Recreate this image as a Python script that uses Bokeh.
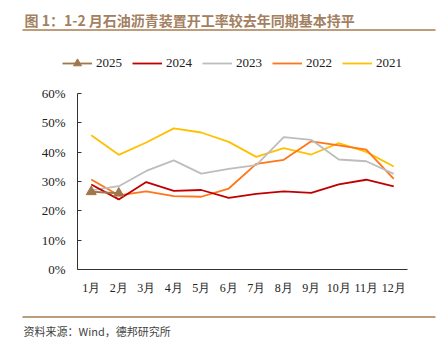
from bokeh.plotting import figure
from bokeh.models import (FactorRange, Range1d, Legend, LegendItem,
                          PrintfTickFormatter, FixedTicker)
from bokeh.layouts import column
from bokeh.core.properties import value
from bokeh.embed import file_html
from bokeh.resources import INLINE

months = ["1月", "2月", "3月", "4月", "5月", "6月", "7月", "8月", "9月", "10月", "11月", "12月"]
v2025 = [26.5, 26.0]
v2024 = [29.0, 23.9, 29.8, 26.8, 27.1, 24.4, 25.8, 26.6, 26.1, 29.0, 30.6, 28.3]
v2023 = [27.0, 28.4, 33.6, 37.2, 32.7, 34.3, 35.6, 45.1, 44.2, 37.5, 36.9, 32.6]
v2022 = [30.7, 25.3, 26.6, 25.0, 24.8, 27.6, 36.0, 37.4, 43.7, 42.3, 40.9, 30.9]
v2021 = [45.8, 39.1, 43.3, 48.1, 46.7, 43.5, 38.4, 41.4, 39.2, 43.1, 40.1, 35.1]
series_names = ["2025", "2024", "2023", "2022", "2021"]
yticks = [0, 10, 20, 30, 40, 50, 60]

title_text = "图 1：1-2 月石油沥青装置开工率较去年同期基本持平"
source_text = "资料来源：Wind，德邦研究所"

colors = {"2025": "#A0764A", "2024": "#C00000", "2023": "#BDBDBD",
          "2022": "#FF7518", "2021": "#FFC000"}
W = 436
HH, MH, FH = 80, 220, 38
serif = "Liberation Serif"
cjk = "Noto Sans CJK SC"
rule_color = "#A87C52"

def blank(h):
    f = figure(width=W, height=h, x_range=Range1d(0, W), y_range=Range1d(h, 0),
               x_axis_type=None, y_axis_type=None, output_backend="svg",
               toolbar_location=None, min_border=0, frame_align=False)
    f.outline_line_color = None
    f.xgrid.visible = False
    f.ygrid.visible = False
    return f

# ---- header: title, rule, legend
hdr = blank(HH)
hdr.text(x=[24], y=[19], text=[title_text], text_font=value(cjk), text_font_style="bold",
         text_font_size="14px", text_color="#A3805F", text_baseline="middle")
hdr.segment(x0=[22], y0=[29.5], x1=[435], y1=[29.5], line_color=rule_color, line_width=1.6)
# off-canvas proxies, used only to draw the legend swatches
lg = {}
for n in series_names:
    lg[n] = [hdr.line([-60, -50], [-60, -60], line_color=colors[n], line_width=1.8)]
lg["2025"].append(hdr.scatter([-60], [-60], marker="triangle", size=9,
                              fill_color=colors["2025"], line_color=colors["2025"]))
legend = Legend(items=[LegendItem(label=n, renderers=lg[n]) for n in series_names],
                orientation="horizontal", location=(62, HH - 73),
                padding=0, margin=0, spacing=10, glyph_width=30, glyph_height=20,
                label_standoff=4, border_line_color=None, background_fill_alpha=0,
                label_text_font=serif, label_text_font_size="13px",
                label_text_color="#222222", label_height=20)
hdr.add_layout(legend)

# ---- main chart
p = figure(width=W, height=MH, x_range=FactorRange(*months, range_padding=0),
           y_range=Range1d(0, 60), output_backend="svg", toolbar_location=None,
           min_border_left=77, min_border_right=29, min_border_top=13, min_border_bottom=31)
p.outline_line_color = None
p.xgrid.grid_line_color = None
p.ygrid.grid_line_color = None

p.yaxis.ticker = FixedTicker(ticks=yticks)
p.yaxis.formatter = PrintfTickFormatter(format="%d%%")
p.yaxis.minor_tick_line_color = None
p.yaxis.major_tick_out = 0
p.yaxis.major_tick_in = 4
p.yaxis.axis_line_color = "#333333"
p.yaxis.major_tick_line_color = "#333333"
p.yaxis.major_label_text_font = serif
p.yaxis.major_label_text_font_size = "13px"
p.yaxis.major_label_text_color = "#222222"
p.yaxis.major_label_standoff = 12
p.xaxis.major_tick_line_color = None
p.xaxis.major_tick_out = 0
p.xaxis.major_tick_in = 0
p.xaxis.minor_tick_line_color = None
p.xaxis.axis_line_color = "#333333"
p.xaxis.major_label_text_font = serif
p.xaxis.major_label_text_font_size = "12px"
p.xaxis.major_label_text_color = "#222222"
p.xaxis.major_label_standoff = 11

p.line(months, v2021, line_color=colors["2021"], line_width=1.8)
p.line(months, v2022, line_color=colors["2022"], line_width=1.8)
p.line(months, v2023, line_color=colors["2023"], line_width=1.8)
p.line(months, v2024, line_color=colors["2024"], line_width=1.8)
p.line(months[:2], v2025, line_color=colors["2025"], line_width=1.8)
p.scatter(months[:2], v2025, marker="triangle", size=10,
          fill_color=colors["2025"], line_color=colors["2025"])

# ---- footer: rule, source
ftr = blank(FH)
ftr.segment(x0=[22], y0=[16.5], x1=[435], y1=[16.5], line_color=rule_color, line_width=1.6)
ftr.text(x=[23], y=[30], text=[source_text], text_font=value(cjk),
         text_font_size="11px", text_color="#444444", text_baseline="middle")

layout = column(hdr, p, ftr, spacing=0)
open("out.html", "w").write(file_html(layout, INLINE))
